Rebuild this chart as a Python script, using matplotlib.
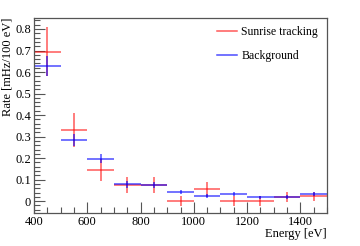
import matplotlib
matplotlib.use("Agg")
import matplotlib.pyplot as plt
import numpy as np
from matplotlib.ticker import MultipleLocator
from matplotlib.lines import Line2D

plt.rcParams['font.family'] = ['Liberation Serif', 'DejaVu Serif']

# bin centres [eV] and bin half width
energy = [450, 550, 650, 750, 850, 950, 1050, 1150, 1250, 1350, 1450]
half_width = 50

sunrise_rate = [0.695, 0.330, 0.145, 0.075, 0.075, 0.000, 0.055, 0.000, 0.000, 0.020, 0.022]
sunrise_err = [0.112, 0.078, 0.052, 0.037, 0.037, 0.022, 0.035, 0.022, 0.022, 0.022, 0.022]

background_rate = [0.628, 0.285, 0.198, 0.078, 0.073, 0.044, 0.026, 0.034, 0.018, 0.019, 0.033]
background_err = [0.045, 0.027, 0.022, 0.015, 0.014, 0.010, 0.009, 0.009, 0.008, 0.008, 0.010]

red = (1, 0, 0, 0.65)
blue = (0, 0, 1, 0.7)

fig = plt.figure(figsize=(3.6, 2.46), dpi=100)
ax = fig.add_axes([34 / 360, 1 - 213 / 246, 293 / 360, 195 / 246])

ax.errorbar(energy, sunrise_rate, xerr=half_width, yerr=sunrise_err, fmt='none',
            ecolor=red, elinewidth=1.1, capsize=0)
ax.errorbar(energy, background_rate, xerr=half_width, yerr=background_err, fmt='none',
            ecolor=blue, elinewidth=1.1, capsize=0)

ax.set_xlim(400, 1500)
ax.set_ylim(-0.055, 0.851)

ax.xaxis.set_major_locator(MultipleLocator(200))
ax.xaxis.set_minor_locator(MultipleLocator(50))
ax.yaxis.set_minor_locator(MultipleLocator(0.02))
ax.set_yticks(np.arange(0, 0.81, 0.1))
ax.set_yticklabels(['0'] + ['%.1f' % v for v in np.arange(0.1, 0.81, 0.1)])

ax.tick_params(which='both', direction='in', top=False, right=False,
               labelsize=9, color='#555555', pad=2)
ax.tick_params(which='major', length=8, width=0.8)
ax.tick_params(which='minor', length=4, width=0.8)
for s in ax.spines.values():
    s.set_color('#555555')
    s.set_linewidth(0.9)

ax.set_xlabel('Energy [eV]', fontsize=9, loc='right', labelpad=0)
ax.set_ylabel('Rate [mHz/100 eV]', fontsize=9, loc='top', labelpad=1)

handles = [Line2D([], [], color=red, lw=1.1), Line2D([], [], color=blue, lw=1.1)]
ax.legend(handles, ['Sunrise tracking', 'Background'], loc='upper right',
          bbox_to_anchor=(0.99, 0.99), frameon=False, fontsize=8.5, borderpad=0,
          handlelength=1.7, handletextpad=0.4, labelspacing=1.05)

fig.savefig('out.png', dpi=100)
